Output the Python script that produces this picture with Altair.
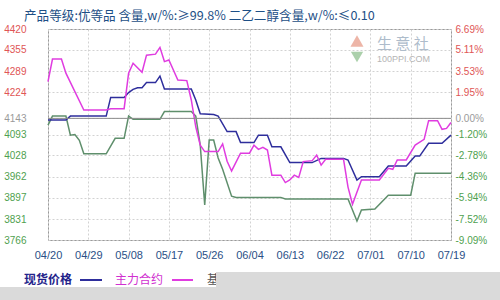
import altair as alt
import pandas as pd

# ---------------- data ----------------
spot_dates = ["2023-04-20", "2023-04-24", "2023-04-25", "2023-05-03", "2023-05-04", "2023-05-07",
              "2023-05-08", "2023-05-09", "2023-05-10", "2023-05-11", "2023-05-12", "2023-05-14",
              "2023-05-15", "2023-05-16", "2023-05-22", "2023-05-23", "2023-05-24", "2023-05-27",
              "2023-05-28", "2023-05-30", "2023-06-01", "2023-06-02", "2023-06-05", "2023-06-06",
              "2023-06-08", "2023-06-09", "2023-06-11", "2023-06-13", "2023-06-18", "2023-06-20",
              "2023-06-25", "2023-06-26", "2023-06-28", "2023-06-29", "2023-07-03", "2023-07-05",
              "2023-07-09", "2023-07-11", "2023-07-12", "2023-07-14", "2023-07-17", "2023-07-19"]
spot_values = [4138, 4138, 4150, 4150, 4208, 4208,
               4223, 4233, 4238, 4238, 4254, 4254,
               4274, 4234, 4234, 4200, 4157, 4155,
               4150, 4102, 4102, 4068, 4068, 4091,
               4091, 4055, 4055, 4006, 4006, 4019,
               4019, 4014, 3952, 3962, 3962, 3995,
               3995, 4026, 4026, 4066, 4066, 4091]

fut_dates = ["2023-04-20", "2023-04-21", "2023-04-23", "2023-04-24", "2023-04-28", "2023-05-03",
             "2023-05-04", "2023-05-07", "2023-05-08", "2023-05-09", "2023-05-11", "2023-05-12",
             "2023-05-14", "2023-05-15", "2023-05-16", "2023-05-17", "2023-05-19", "2023-05-21",
             "2023-05-22", "2023-05-23", "2023-05-24", "2023-05-25", "2023-05-28", "2023-05-29",
             "2023-05-30", "2023-05-31", "2023-06-02", "2023-06-04", "2023-06-05", "2023-06-06",
             "2023-06-07", "2023-06-08", "2023-06-09", "2023-06-11", "2023-06-12", "2023-06-13",
             "2023-06-14", "2023-06-15", "2023-06-16", "2023-06-18", "2023-06-19", "2023-06-20",
             "2023-06-21", "2023-06-25", "2023-06-26", "2023-06-27", "2023-06-29", "2023-07-03",
             "2023-07-05", "2023-07-06", "2023-07-07", "2023-07-09", "2023-07-11", "2023-07-13",
             "2023-07-14", "2023-07-16", "2023-07-17", "2023-07-18", "2023-07-19"]
fut_values = [4257, 4327, 4327, 4283, 4169, 4169,
              4173, 4173, 4283, 4314, 4286, 4339,
              4342, 4363, 4319, 4324, 4262, 4260,
              4200, 4117, 4060, 4040, 4040, 4064,
              4010, 3980, 4035, 4035, 4060, 4047,
              4053, 4045, 3967, 3967, 3944, 3952,
              3967, 3960, 4009, 4012, 4029, 3998,
              4016, 4016, 3930, 3877, 3952, 3952,
              3988, 3985, 4014, 4014, 4060, 4078,
              4136, 4136, 4109, 4112, 4130]

basis_dates = ["2023-04-20", "2023-04-21", "2023-04-24", "2023-04-25", "2023-04-26", "2023-04-27",
               "2023-04-28", "2023-05-03", "2023-05-05", "2023-05-07", "2023-05-08", "2023-05-09",
               "2023-05-15", "2023-05-16", "2023-05-22", "2023-05-23", "2023-05-24", "2023-05-25",
               "2023-05-26", "2023-05-27", "2023-05-28", "2023-05-29", "2023-05-31", "2023-06-01",
               "2023-06-11", "2023-06-12", "2023-06-26", "2023-06-28", "2023-06-29", "2023-07-02",
               "2023-07-05", "2023-07-10", "2023-07-11", "2023-07-19"]
basis_values = [4122, 4150, 4150, 4091, 4093, 4075,
                4033, 4033, 4081, 4081, 4150, 4140,
                4140, 4164, 4164, 4150, 4060, 3875,
                4076, 4076, 4020, 3985, 3902, 3898,
                3898, 3893, 3893, 3825, 3859, 3862,
                3905, 3905, 3973, 3973]

left_ticks = [4420, 4355, 4289, 4224, 4143, 4093, 4028, 3962, 3897, 3831, 3766]
right_labels = ["6.69%", "5.11%", "3.53%", "1.95%", "0.00%", "-1.20%", "-2.78%",
                "-4.36%", "-5.94%", "-7.52%", "-9.09%"]
x_ticks = ["04/20", "04/29", "05/08", "05/17", "05/26", "06/04", "06/13",
           "06/22", "07/01", "07/10", "07/19"]
series_names = ["现货价格", "主力合约", "基差"]
series_colors = ["#2e2e9c", "#e03ce0", "#5f8f6c"]
title_text = "产品等级:优等品 含量,w/%:≥99.8% 二乙二醇含量,w/%:≤0.10"
zero_level = 4143

# ---------------- build table ----------------
rows = []
for name, ds, vs in [(series_names[2], basis_dates, basis_values),
                     (series_names[0], spot_dates, spot_values),
                     (series_names[1], fut_dates, fut_values)]:
    for d, v in zip(ds, vs):
        rows.append({"series": name, "date": d, "value": v})
df = pd.DataFrame(rows)

W, H = 403, 211

xscale = alt.Scale(type="utc",
                   domain=[alt.DateTime(year=2023, month=4, date=20, utc=True),
                           alt.DateTime(year=2023, month=7, date=19, utc=True)])
xvals = [alt.DateTime(year=2023, month=int(t[:2]), date=int(t[3:]), utc=True) for t in x_ticks]
yscale = alt.Scale(domain=[3766, 4420], nice=False, zero=False)

label_color = {"condition": [{"test": "datum.value > 4150", "value": "#e05555"},
                             {"test": "datum.value > 4140", "value": "#9a9a9a"}],
               "value": "#4f9f4f"}

xaxis = alt.Axis(values=xvals, labelExpr="utcFormat(datum.value, '%m/%d')",
                 labelColor="#2a4f86", labelFont="Liberation Sans", labelFontSize=11,
                 labelPadding=9, ticks=False, domain=False, grid=True, gridColor="#d2d2d2",
                 gridDash=[2, 2], title=None, labelOverlap=False, labelFlush=False)
yaxis_left = alt.Axis(values=left_ticks, format="d", labelColor=label_color,
                      labelFont="Liberation Sans", labelFontSize=10, labelPadding=22,
                      labelAlign="right", ticks=False, domain=False, grid=True,
                      gridColor="#d2d2d2", gridDash=[2, 2], title=None, labelOverlap=False)
expr = ""
for v, lab in zip(left_ticks, right_labels):
    expr += f"datum.value == {v} ? '{lab}' : "
expr += "''"
yaxis_right = alt.Axis(orient="right", values=left_ticks, labelExpr=expr, labelColor=label_color,
                       labelFont="Liberation Sans", labelFontSize=10, labelPadding=4,
                       ticks=False, domain=False, grid=False, title=None, labelOverlap=False)

base = alt.Chart(df).encode(
    x=alt.X("date:T", scale=xscale, axis=xaxis),
    y=alt.Y("value:Q", scale=yscale, axis=yaxis_left),
)
line_layers = []
for name, col in [(series_names[2], series_colors[2]),
                  (series_names[0], series_colors[0]),
                  (series_names[1], series_colors[1])]:
    line_layers.append(
        base.transform_filter(alt.datum.series == name).mark_line(color=col, strokeWidth=1.5)
    )
lines = alt.layer(*line_layers)

one = alt.Data(values=[{}])
zero_rule = alt.Chart(one).mark_rule(color="#8c8c8c", strokeWidth=1).encode(
    y=alt.YDatum(zero_level, type="quantitative", scale=yscale, axis=yaxis_right)
)

def txt(text, x, y, size, color, font="Noto Sans CJK SC", weight="normal", align="left",
        baseline="middle"):
    return alt.Chart(one).mark_text(text=text, align=align, baseline=baseline, fontSize=size,
                                    font=font, color=color, fontWeight=weight).encode(
        x=alt.value(x), y=alt.value(y))

def seg(x1, x2, y, color, width=2):
    return alt.Chart(one).mark_rule(color=color, strokeWidth=width).encode(
        x=alt.value(x1), x2=alt.value(x2), y=alt.value(y))

# watermark
wm = [
    alt.Chart(one).mark_point(shape="triangle-up", filled=True, size=170, color="#eaa898",
                              opacity=0.85).encode(x=alt.value(309), y=alt.value(12)),
    alt.Chart(one).mark_point(shape="triangle-down", filled=True, size=150, color="#9cc89c",
                              opacity=0.85).encode(x=alt.value(309), y=alt.value(28)),
    txt("生 意 社", 329, 15, 15, "#aebccb"),
    txt("100PPI.COM", 329, 30, 9, "#b5b5b5", font="Liberation Sans"),
]

deco = [
    txt(title_text, -24, -13, 12.6, "#1d4f86"),
    txt(series_names[0], -24, 251, 12, "#23238a", weight="bold"),
    seg(32, 54, 251, series_colors[0]),
    txt(series_names[1], 67, 251, 12, "#d030d0"),
    seg(124, 145, 251, series_colors[1]),
    txt(series_names[2], 159, 251, 12, "#555555"),
    alt.Chart(one).mark_rect(color="#dadada").encode(
        x=alt.value(168), x2=alt.value(452), y=alt.value(243), y2=alt.value(272)),
    alt.Chart(one).mark_rect(color="#dadada").encode(
        x=alt.value(-48), x2=alt.value(452), y=alt.value(258), y2=alt.value(272)),
]

chart = alt.layer(lines, zero_rule, *wm, *deco).resolve_scale(y="independent").properties(
    width=W, height=H,
    autosize=alt.AutoSizeParams(type="none"),
    padding={"left": 48, "top": 29, "right": 49, "bottom": 60},
    background="white",
).configure_view(stroke="#9a9a9a", strokeWidth=1)

chart.save("out.html", embed_options={"renderer": "svg", "actions": False})
